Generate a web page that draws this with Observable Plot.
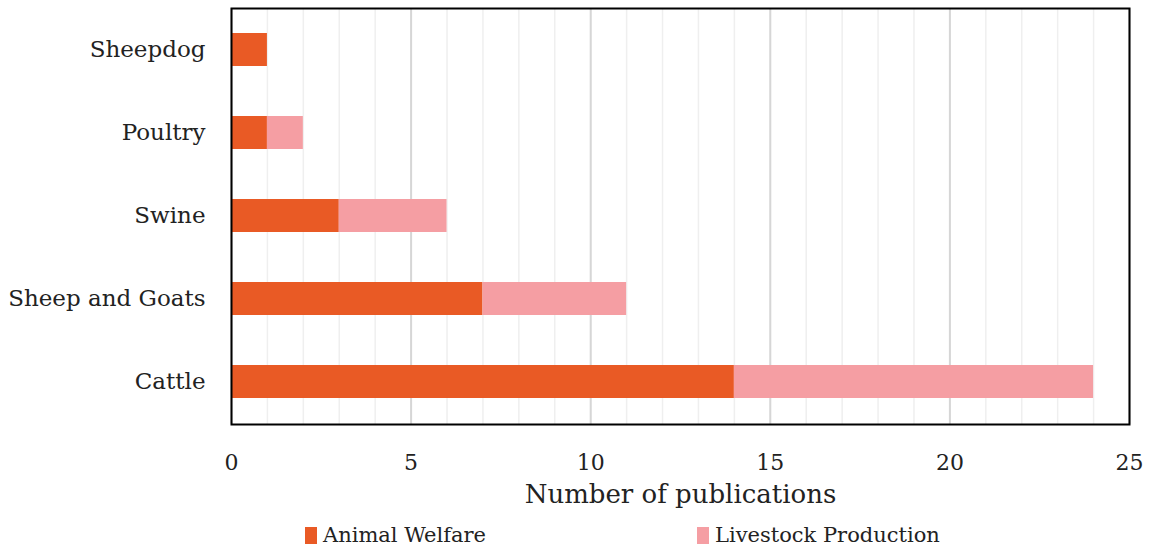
<!DOCTYPE html>
<html>
<head>
<meta charset="utf-8">
<script src="https://cdn.jsdelivr.net/npm/d3@7"></script>
<script src="https://cdn.jsdelivr.net/npm/@observablehq/plot@0.6"></script>
<style>
  body { margin: 0; background: #fff; font-family: "DejaVu Serif", serif; color: #222; }
  #wrap { position: relative; width: 1157px; height: 546px; }
  #legend { position: relative; height: 34px; font-size: 21px; }
  .item { position: absolute; top: 10px; display: flex; align-items: center; white-space: nowrap; line-height: 26px; }
  .swatch { width: 12px; height: 17px; margin-right: 6px; }
</style>
</head>
<body>
<div id="wrap">
  <div id="chart"></div>
  <div id="legend"></div>
</div>
<script>
// Publications per species, split by research focus
const species = ["Sheepdog", "Poultry", "Swine", "Sheep and Goats", "Cattle"];
const animalWelfare = [1, 1, 3, 7, 14];
const livestockProduction = [0, 1, 3, 4, 10];
const groups = ["Animal Welfare", "Livestock Production"];
const colors = ["#e95a25", "#f59ea3"];
const xTicks = [0, 5, 10, 15, 20, 25];
const minorTicks = d3.range(0, 26);
const xTitle = "Number of publications";

const rows = species.flatMap((s, i) => [
  {species: s, group: groups[0], value: animalWelfare[i]},
  {species: s, group: groups[1], value: livestockProduction[i]}
]);

const chart = Plot.plot({
  width: 1157,
  height: 512,
  marginLeft: 231,
  marginRight: 28,
  marginTop: 8,
  marginBottom: 88,
  style: {fontFamily: "'DejaVu Serif', serif", fontSize: "23px", color: "#222", background: "#fff"},
  x: {domain: [0, 25]},
  y: {domain: species, paddingInner: 0.6, paddingOuter: 0.3},
  color: {domain: groups, range: colors},
  marks: [
    Plot.ruleX(minorTicks, {stroke: "#efefef", strokeWidth: 1.5}),
    Plot.ruleX(xTicks, {stroke: "#d6d6d6", strokeWidth: 2}),
    Plot.barX(rows, Plot.stackX({y: "species", x: "value", fill: "group"})),
    Plot.axisX(xTicks, {tickSize: 0, tickPadding: 30, fontSize: 22, label: null}),
    Plot.axisY({tickSize: 0, tickPadding: 26, fontSize: 23, label: null}),
    Plot.text([xTitle], {frameAnchor: "bottom", dy: 78, fontSize: 26, fill: "#222"}),
    Plot.frame({stroke: "#000", strokeWidth: 2})
  ]
});
document.getElementById("chart").appendChild(chart);

// Legend row beneath the chart
const legend = document.getElementById("legend");
const legendX = [305, 697];
groups.forEach((g, i) => {
  const item = document.createElement("div");
  item.className = "item";
  item.style.left = legendX[i] + "px";
  const sw = document.createElement("span");
  sw.className = "swatch";
  sw.style.background = colors[i];
  const label = document.createElement("span");
  label.textContent = g;
  item.append(sw, label);
  legend.appendChild(item);
});
</script>
</body>
</html>
